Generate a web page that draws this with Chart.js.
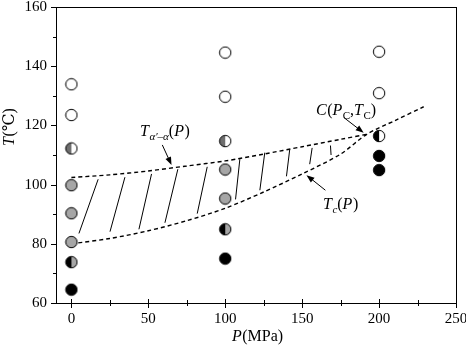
<!DOCTYPE html>
<html>
<head>
<meta charset="utf-8">
<script src="https://cdn.jsdelivr.net/npm/chart.js@4/dist/chart.umd.min.js"></script>
<style>
  html, body { margin: 0; padding: 0; background: #fff; }
  #wrap { width: 466px; height: 347px; }
</style>
</head>
<body>
<div id="wrap"><canvas id="phaseChart" width="466" height="347"></canvas></div>
<script>
"use strict";

/*******************
   DATA
*******************/

// measured states, grouped by marker fill
var openP = [0, 0, 100, 100, 200, 200];
var openT = [133.9, 123.5, 144.6, 129.7, 144.9, 130.9];
var halfGrayP = [0, 100];
var halfGrayT = [112.2, 114.7];
var grayP = [0, 0, 0, 100, 100];
var grayT = [99.8, 90.3, 80.6, 105.1, 95.3];
var halfBlackGrayP = [0, 100];
var halfBlackGrayT = [73.8, 84.9];
var halfBlackWhiteP = [200];
var halfBlackWhiteT = [116.4];
var blackP = [0, 100, 200, 200];
var blackT = [64.5, 75.0, 109.7, 104.9];

// T_a'-a(P) upper boundary
var upperP = [0, 25, 50, 75, 100, 125, 150, 175, 192];
var upperT = [102.4, 103.3, 104.6, 106.3, 108.0, 110.3, 112.8, 115.3, 117.0];
// Tc(P) lower boundary, continuing past C
var lowerP = [0, 25, 50, 75, 100, 125, 150, 175, 192, 211, 229];
var lowerT = [80.0, 81.8, 84.4, 87.8, 92.0, 97.5, 103.6, 110.3, 117.0, 121.8, 126.3];

// hatching strokes between the two boundaries (bottom end -> top end)
var hatchP0 = [4.9, 25.1, 43.9, 60.8, 81.8, 106.7, 122.5, 139.8, 154.9, 168.8];
var hatchT0 = [83.5, 84.1, 84.9, 87.1, 90.2, 95.0, 98.1, 102.8, 106.9, 110.0];
var hatchP1 = [17.4, 34.8, 52.1, 69.2, 88.3, 109.5, 125.7, 141.9, 156.5, 168.4];
var hatchT1 = [101.8, 102.5, 103.6, 105.2, 106.0, 108.6, 110.8, 111.8, 112.4, 113.2];

// axis ticks
var xTicks = [0, 25, 50, 75, 100, 125, 150, 175, 200, 225, 250];
var xTickLabels = [0, 50, 100, 150, 200, 250];
var yTicks = [60, 70, 80, 90, 100, 110, 120, 130, 140, 150, 160];
var yTickLabels = [60, 80, 100, 120, 140, 160];

/*******************
   HELPERS
*******************/

var SERIF = '"Liberation Serif", "DejaVu Serif", serif';
Chart.defaults.font.family = SERIF;
Chart.defaults.color = '#000';

function pts(xs, ys) {
	return xs.map(function (x, i) { return { x: x, y: ys[i] }; });
}

function makeMarker(left, right) {
	var c = document.createElement('canvas');
	c.width = 14;
	c.height = 14;
	var g = c.getContext('2d');
	var r = 5.7;
	g.fillStyle = left;
	g.beginPath(); g.arc(7, 7, r, Math.PI / 2, Math.PI * 1.5); g.fill();
	g.fillStyle = right;
	g.beginPath(); g.arc(7, 7, r, -Math.PI / 2, Math.PI / 2); g.fill();
	g.strokeStyle = '#000';
	g.lineWidth = 1;
	g.beginPath(); g.arc(7, 7, r, 0, Math.PI * 2); g.stroke();
	return c;
}

var GRAY = '#a6a6a6';
var DARK = '#6f6f6f';

function markerSet(xs, ys, left, right) {
	return {
		data: pts(xs, ys),
		pointStyle: makeMarker(left, right),
		pointRadius: 6,
		showLine: false
	};
}

function dashed(xs, ys) {
	return {
		data: pts(xs, ys),
		showLine: true,
		borderColor: '#000',
		borderWidth: 1.4,
		borderDash: [4, 3],
		pointRadius: 0,
		tension: 0.3,
		fill: false
	};
}

var datasets = [
	markerSet(openP, openT, '#fff', '#fff'),
	markerSet(halfGrayP, halfGrayT, DARK, '#fff'),
	markerSet(grayP, grayT, GRAY, GRAY),
	markerSet(halfBlackGrayP, halfBlackGrayT, '#000', GRAY),
	markerSet(halfBlackWhiteP, halfBlackWhiteT, '#000', '#fff'),
	markerSet(blackP, blackT, '#000', '#000'),
	dashed(upperP, upperT),
	dashed(lowerP, lowerT)
];

hatchP0.forEach(function (p, i) {
	datasets.push({
		data: [{ x: p, y: hatchT0[i] }, { x: hatchP1[i], y: hatchT1[i] }],
		showLine: true,
		borderColor: '#000',
		borderWidth: 1,
		pointRadius: 0
	});
});

// rich text: parts = [text, italic, sub]
function drawRich(ctx, parts, x, y, size) {
	var cx = x;
	parts.forEach(function (p) {
		var s = p[2] ? Math.round(size * 0.68) : size;
		ctx.font = (p[1] ? 'italic ' : '') + s + 'px ' + SERIF;
		ctx.fillText(p[0], cx, y + (p[2] ? size * 0.25 : 0));
		cx += ctx.measureText(p[0]).width + (p[1] && !p[2] ? 0.5 : 0);
	});
}

function arrow(ctx, x0, y0, x1, y1) {
	var a = Math.atan2(y1 - y0, x1 - x0);
	ctx.beginPath();
	ctx.moveTo(x0, y0);
	ctx.lineTo(x1 - 5 * Math.cos(a), y1 - 5 * Math.sin(a));
	ctx.stroke();
	ctx.beginPath();
	ctx.moveTo(x1, y1);
	ctx.lineTo(x1 - 8 * Math.cos(a) + 3 * Math.sin(a), y1 - 8 * Math.sin(a) - 3 * Math.cos(a));
	ctx.lineTo(x1 - 8 * Math.cos(a) - 3 * Math.sin(a), y1 - 8 * Math.sin(a) + 3 * Math.cos(a));
	ctx.closePath();
	ctx.fill();
}

/*******************
   FRAME, TICKS, LABELS
*******************/

var decor = {
	id: 'decor',
	afterDraw: function (chart) {
		var ctx = chart.ctx;
		var a = chart.chartArea;
		var xs = chart.scales.x, ys = chart.scales.y;
		ctx.save();
		ctx.strokeStyle = '#000';
		ctx.fillStyle = '#000';
		ctx.lineWidth = 1;
		ctx.strokeRect(Math.round(a.left) + 0.5, Math.round(a.top) + 0.5,
			Math.round(a.right - a.left), Math.round(a.bottom - a.top));

		ctx.beginPath();
		xTicks.forEach(function (v) {
			var px = Math.round(xs.getPixelForValue(v)) + 0.5;
			var major = v % 50 === 0;
			ctx.moveTo(px, a.bottom - (major ? 4 : 3));
			ctx.lineTo(px, a.bottom + (major ? 5 : 3));
		});
		yTicks.forEach(function (v) {
			var py = Math.round(ys.getPixelForValue(v)) + 0.5;
			var major = v % 20 === 0;
			ctx.moveTo(a.left - (major ? 5 : 3), py);
			ctx.lineTo(a.left, py);
		});
		ctx.stroke();

		// axis titles
		ctx.textBaseline = 'alphabetic';
		drawRich(ctx, [['P', true], ['(MPa)', false]], 232, 341, 16);
		ctx.save();
		ctx.translate(14, 146);
		ctx.rotate(-Math.PI / 2);
		drawRich(ctx, [['T', true], ['(\u2103)', false]], 0, 0, 16);
		ctx.restore();

		// curve labels
		drawRich(ctx, [['T', true], ['\u03b1\u2032\u2013\u03b1', true, true], ['(', false], ['P', true], [')', false]], 140, 136, 16);
		drawRich(ctx, [['C', true], ['(', false], ['P', true], ['C', false, true], [',', false], ['T', true], ['C', false, true], [')', false]], 316, 115, 16);
		drawRich(ctx, [['T', true], ['c', true, true], ['(', false], ['P', true], [')', false]], 323, 209, 16);

		arrow(ctx, xs.getPixelForValue(59.1), ys.getPixelForValue(113.4), xs.getPixelForValue(65.1), ys.getPixelForValue(106.6));
		arrow(ctx, xs.getPixelForValue(177), ys.getPixelForValue(122.7), xs.getPixelForValue(190), ys.getPixelForValue(117.5));
		arrow(ctx, xs.getPixelForValue(165.1), ys.getPixelForValue(98.1), xs.getPixelForValue(152.8), ys.getPixelForValue(103.2));
		ctx.restore();
	}
};

/*******************
   CHART
*******************/

var phaseChart = new Chart(document.getElementById('phaseChart'), {
	type: 'scatter',
	data: { datasets: datasets },
	options: {
		responsive: false,
		animation: false,
		events: [],
		layout: { padding: { top: 7, right: 10, left: 0, bottom: 0 } },
		plugins: {
			legend: { display: false },
			tooltip: { enabled: false },
			title: { display: false }
		},
		scales: {
			x: {
				type: 'linear',
				min: -10,
				max: 250,
				afterBuildTicks: function (s) {
					s.ticks = xTickLabels.map(function (v) { return { value: v }; });
				},
				afterFit: function (s) {
					s.height = 44;
					s.paddingLeft = 0;
					s.paddingRight = 0;
				},
				grid: { display: false, drawTicks: false },
				border: { display: false },
				ticks: {
					color: '#000',
					padding: 7,
					maxRotation: 0,
					autoSkip: false,
					font: { family: SERIF, size: 15 }
				}
			},
			y: {
				type: 'linear',
				min: 60,
				max: 160,
				afterBuildTicks: function (s) {
					s.ticks = yTickLabels.map(function (v) { return { value: v }; });
				},
				afterFit: function (s) {
					s.width = 56;
					s.paddingTop = 0;
					s.paddingBottom = 0;
				},
				grid: { display: false, drawTicks: false },
				border: { display: false },
				ticks: {
					color: '#000',
					padding: 9,
					autoSkip: false,
					font: { family: SERIF, size: 15 }
				}
			}
		}
	},
	plugins: [decor]
});
</script>
</body>
</html>
